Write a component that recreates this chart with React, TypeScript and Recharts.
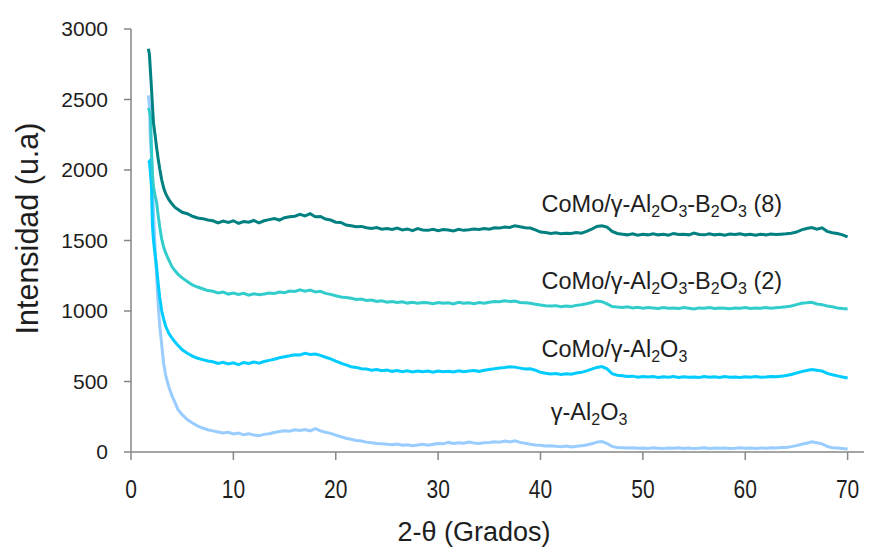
import { LineChart, Line, XAxis, YAxis, ReferenceDot } from "recharts";

// 2-theta positions (degrees)
const twoTheta = [
  1.7, 1.8, 1.9, 2.0, 2.1, 2.2, 2.35, 2.5, 2.65, 2.8, 3.0, 3.2, 3.4, 3.7, 4.0, 4.3, 4.6, 5.0, 5.5, 6.0, 6.5, 7.0, 7.5,
  8, 8.5, 9, 9.5, 10, 10.5, 11, 11.5, 12, 12.5,
  13, 13.5, 14, 14.5, 15, 15.5, 16, 16.5, 17, 17.5,
  18, 18.5, 19, 19.5, 20, 20.5, 21, 21.5, 22, 22.5,
  23, 23.5, 24, 24.5, 25, 25.5, 26, 26.5, 27, 27.5,
  28, 28.5, 29, 29.5, 30, 30.5, 31, 31.5, 32, 32.5,
  33, 33.5, 34, 34.5, 35, 35.5, 36, 36.5, 37, 37.5,
  38, 38.5, 39, 39.5, 40, 40.5, 41, 41.5, 42, 42.5,
  43, 43.5, 44, 44.5, 45, 45.5, 46, 46.5, 47, 47.5,
  48, 48.5, 49, 49.5, 50, 50.5, 51, 51.5, 52, 52.5,
  53, 53.5, 54, 54.5, 55, 55.5, 56, 56.5, 57, 57.5,
  58, 58.5, 59, 59.5, 60, 60.5, 61, 61.5, 62, 62.5,
  63, 63.5, 64, 64.5, 65, 65.5, 66, 66.5, 67, 67.5,
  68, 68.5, 69, 69.5, 70,
];

// CoMo/γ-Al2O3-B2O3 (8)
const como8 = [
  2860, 2820, 2700, 2580, 2450, 2330, 2250, 2160, 2080, 2010, 1930, 1870, 1830, 1790, 1760, 1735, 1720, 1700, 1690, 1672, 1660, 1655, 1645,
  1640, 1625, 1638, 1628, 1640, 1622, 1635, 1630, 1642, 1625,
  1640, 1648, 1655, 1645, 1662, 1668, 1672, 1685, 1675, 1690,
  1668, 1670, 1652, 1645, 1630, 1628, 1610, 1605, 1598, 1600,
  1590, 1585, 1592, 1580, 1585, 1578, 1588, 1575, 1582, 1570,
  1584, 1575, 1572, 1580, 1570, 1578, 1575, 1568, 1580, 1572,
  1576, 1582, 1578, 1585, 1580, 1590, 1588, 1596, 1592, 1605,
  1598, 1590, 1588, 1575, 1560, 1556, 1550, 1555, 1548, 1552,
  1550, 1556, 1552, 1565, 1580, 1600, 1605, 1595, 1565, 1550,
  1545, 1540, 1548, 1538, 1545, 1540, 1548, 1540, 1545, 1538,
  1550, 1542, 1545, 1540, 1552, 1543, 1540, 1548, 1540, 1545,
  1538, 1546, 1542, 1548, 1540, 1545, 1538, 1545, 1540, 1546,
  1542, 1545, 1548, 1552, 1560, 1575, 1585, 1592, 1580, 1590,
  1565, 1555, 1550, 1540, 1525,
];

// CoMo/γ-Al2O3-B2O3 (2)
const como2 = [
  2440, 2420, 2380, 2150, 1960, 1880, 1820, 1770, 1680, 1600, 1510, 1450, 1410, 1360, 1315, 1285, 1260, 1235, 1210, 1185, 1170, 1158, 1145,
  1140, 1128, 1135, 1120, 1128, 1118, 1125, 1112, 1122, 1115,
  1120, 1128, 1125, 1135, 1130, 1142, 1138, 1150, 1140, 1148,
  1135, 1140, 1125, 1118, 1108, 1100, 1095, 1090, 1082, 1085,
  1075, 1078, 1068, 1072, 1062, 1068, 1060, 1065, 1056, 1062,
  1055, 1060, 1058, 1052, 1060, 1055, 1058, 1050, 1062, 1055,
  1058, 1052, 1060, 1055, 1062, 1068, 1065, 1072, 1068, 1070,
  1060, 1058, 1055, 1048, 1042, 1038, 1035, 1038, 1030, 1035,
  1032, 1040, 1045, 1052, 1060, 1070, 1066, 1050, 1032, 1028,
  1025, 1030, 1022, 1026, 1020, 1025, 1022, 1018, 1025, 1020,
  1022, 1018, 1024, 1020, 1015, 1022, 1020, 1025, 1018, 1022,
  1020, 1016, 1022, 1020, 1024, 1018, 1022, 1020, 1025, 1020,
  1023, 1026, 1030, 1035, 1045, 1055, 1058, 1062, 1050, 1045,
  1035, 1030, 1022, 1018, 1015,
];

// CoMo/γ-Al2O3
const como = [
  2050, 2060, 1980, 1880, 1600, 1500, 1400, 1310, 1200, 1100, 1000, 940, 890, 840, 810, 780, 755, 725, 700, 680, 665, 655, 645,
  640, 628, 636, 625, 632, 620, 635, 628, 638, 630,
  642, 650, 658, 668, 675, 682, 690, 688, 700, 692,
  695, 685, 672, 660, 645, 630, 618, 605, 600, 590,
  588, 580, 585, 576, 582, 572, 578, 570, 576, 568,
  575, 570, 574, 566, 575, 570, 572, 568, 576, 570,
  574, 578, 572, 580, 585, 590, 596, 600, 605, 602,
  595, 588, 590, 580, 565, 558, 554, 556, 550, 555,
  552, 560, 565, 575, 588, 600, 606, 590, 555, 545,
  540, 535, 538, 530, 536, 532, 535, 528, 534, 530,
  536, 528, 534, 530, 532, 528, 535, 530, 533, 528,
  535, 530, 532, 528, 534, 530, 535, 530, 532, 536,
  534, 538, 542, 550, 560, 570, 578, 585, 580, 575,
  558, 548, 540, 532, 525,
];

// γ-Al2O3
const alumina = [
  2530, 2450, 2200, 2100, 1900, 1700, 1450, 1250, 1050, 900, 760, 620, 540, 460, 400, 350, 300, 265, 230, 205, 185, 170, 158,
  150, 142, 135, 140, 128, 135, 122, 130, 120, 115,
  125, 130, 138, 145, 150, 148, 158, 152, 160, 150,
  165, 150, 140, 132, 120, 108, 98, 90, 82, 78,
  70, 65, 60, 58, 55, 52, 56, 48, 52, 45,
  50, 55, 48, 55, 60, 58, 68, 60, 65, 62,
  70, 64, 60, 65, 68, 72, 70, 78, 72, 80,
  68, 62, 55, 50, 48, 42, 45, 40, 38, 42,
  35, 40, 45, 50, 58, 70, 75, 60, 40, 32,
  30, 28, 30, 26, 28, 25, 30, 27, 24, 28,
  26, 30, 25, 28, 24, 27, 30, 25, 28, 26,
  29, 25, 27, 30, 26, 28, 25, 29, 27, 30,
  28, 32, 32, 38, 45, 55, 62, 72, 65, 58,
  40, 30, 28, 25, 22,
];

const xTicks = [0, 10, 20, 30, 40, 50, 60, 70];
const yTicks = [0, 500, 1000, 1500, 2000, 2500, 3000];

const rows = twoTheta.map((x, i) => ({
  x,
  como8: como8[i],
  como2: como2[i],
  como: como[i],
  alumina: alumina[i],
}));

const FONT = "'Liberation Sans', Arial, sans-serif";
const INK = "#1e1e1e";

// [text, subscript?]
type Part = [string, boolean];
const sub = (s: string): Part => [s, true];
const nor = (s: string): Part => [s, false];

const annotations: { x: number; y: number; parts: Part[] }[] = [
  { x: 40.1, y: 1702, parts: [nor("CoMo/γ-Al"), sub("2"), nor("O"), sub("3"), nor("-B"), sub("2"), nor("O"), sub("3"), nor(" (8)")] },
  { x: 40.1, y: 1156, parts: [nor("CoMo/γ-Al"), sub("2"), nor("O"), sub("3"), nor("-B"), sub("2"), nor("O"), sub("3"), nor(" (2)")] },
  { x: 40.1, y: 674, parts: [nor("CoMo/γ-Al"), sub("2"), nor("O"), sub("3")] },
  { x: 41.0, y: 227, parts: [nor("γ-Al"), sub("2"), nor("O"), sub("3")] },
];

function Formula(props: any) {
  const vb = props.viewBox || {};
  const parts: Part[] = props.parts;
  let prevSub = false;
  return (
    <text x={vb.x} y={vb.y} fontSize={23.5} fill={INK} fontFamily={FONT}>
      {parts.map(([t, isSub], i) => {
        const dy = isSub && !prevSub ? 5 : !isSub && prevSub ? -5 : 0;
        prevSub = isSub;
        return (
          <tspan key={i} dy={dy} fontSize={isSub ? 16 : 23.5}>
            {t}
          </tspan>
        );
      })}
    </text>
  );
}

function XTick(props: any) {
  const { x, y, payload } = props;
  return (
    <g transform={`translate(${x},${y}) scale(1,1.2)`}>
      <text textAnchor="middle" dy="0.71em" fontSize={21} fill={INK} fontFamily={FONT}>
        {payload.value}
      </text>
    </g>
  );
}

function XTitle(props: any) {
  const vb = props.viewBox || { x: 131, y: 452 };
  return (
    <text x={vb.x + 343} y={vb.y + 89} textAnchor="middle" fontSize={27} fill={INK} fontFamily={FONT}>
      2-θ (Grados)
    </text>
  );
}

function YTitle(props: any) {
  const vb = props.viewBox || { x: 10, y: 29, height: 423 };
  const cx = vb.x + 17;
  const cy = vb.y + vb.height / 2 - 12;
  return (
    <text
      x={cx}
      y={cy}
      transform={`rotate(-90, ${cx}, ${cy})`}
      textAnchor="middle"
      dominantBaseline="central"
      fontSize={30.5}
      fill={INK}
      fontFamily={FONT}
    >
      Intensidad (u.a)
    </text>
  );
}

export default function App() {
  return (
    <div style={{ width: 883, height: 554, background: "#fff" }}>
      <style>{`body{margin:0}`}</style>
      <LineChart width={883} height={554} data={rows} margin={{ top: 29, right: 19, bottom: 42, left: 10 }}>
        <XAxis
          dataKey="x"
          type="number"
          domain={[0, 71.6]}
          ticks={xTicks}
          interval={0}
          stroke="#878787"
          strokeWidth={1.5}
          tickSize={8}
          tickMargin={20}
          tick={<XTick />}
          height={60}
          label={<XTitle />}
        />
        <YAxis
          type="number"
          domain={[0, 3000]}
          ticks={yTicks}
          interval={0}
          stroke="#878787"
          strokeWidth={1.5}
          tickSize={7}
          tickMargin={16}
          width={121}
          tick={{ fontSize: 21, fill: INK, fontFamily: FONT }}
          label={<YTitle />}
        />
        <Line dataKey="alumina" stroke="#99CCFF" strokeWidth={3} dot={false} isAnimationActive={false} />
        <Line dataKey="como" stroke="#00CCFF" strokeWidth={3} dot={false} isAnimationActive={false} />
        <Line dataKey="como2" stroke="#33CCCC" strokeWidth={3} dot={false} isAnimationActive={false} />
        <Line dataKey="como8" stroke="#008080" strokeWidth={3} dot={false} isAnimationActive={false} />
        {annotations.map((a, i) => (
          <ReferenceDot
            key={i}
            x={a.x}
            y={a.y}
            r={0}
            fill="none"
            stroke="none"
            label={<Formula parts={a.parts} />}
          />
        ))}
      </LineChart>
    </div>
  );
}
